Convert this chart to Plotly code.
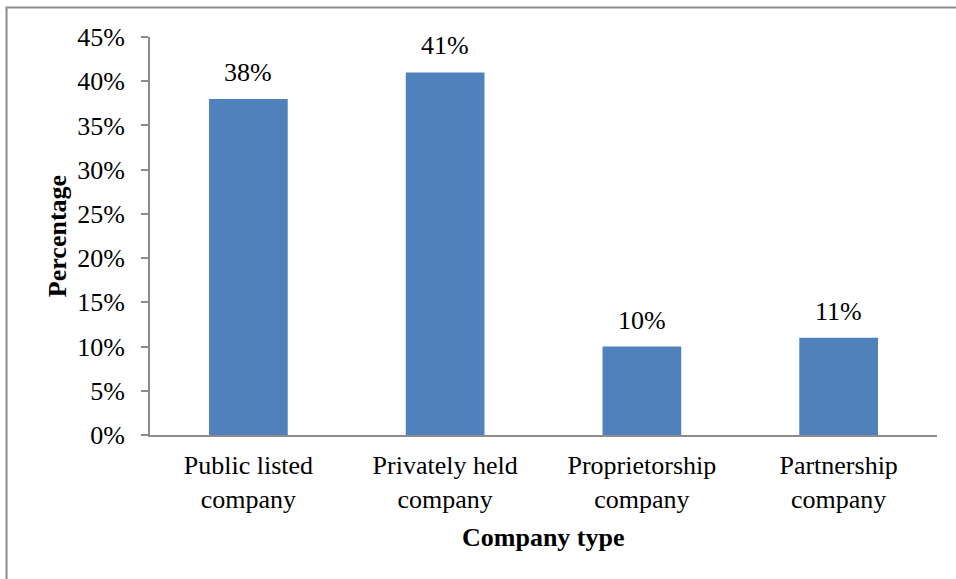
import plotly.graph_objects as go

# Share of respondents by company type
categories = ["Public listed<br>company", "Privately held<br>company",
              "Proprietorship<br>company", "Partnership<br>company"]
shares = [0.38, 0.41, 0.10, 0.11]
y_ticks = [0, 0.05, 0.10, 0.15, 0.20, 0.25, 0.30, 0.35, 0.40, 0.45]

FONT = "Liberation Serif"
BAR = "#4F81BD"
GRAY = "#8C8C8C"
SIZE = 26

fig = go.Figure(
    go.Bar(
        x=categories,
        y=shares,
        marker=dict(color=BAR, line=dict(width=0)),
        width=0.4,
        hoverinfo="skip",
    )
)

# value labels above each bar
for cat, v in zip(categories, shares):
    fig.add_annotation(
        x=cat, y=v, text=f"{round(v * 100)}%",
        showarrow=False, yanchor="bottom", yshift=10,
        font=dict(family=FONT, size=SIZE, color="#000000"),
    )

# axis titles
fig.add_annotation(
    x=-0.118, y=0.5, xref="paper", yref="paper", text="<b>Percentage</b>",
    textangle=-90, showarrow=False, xanchor="center", yanchor="middle",
    font=dict(family=FONT, size=SIZE, color="#000000"),
)
fig.add_annotation(
    x=0.5, y=-0.258, xref="paper", yref="paper", text="<b>Company type</b>",
    showarrow=False, xanchor="center", yanchor="middle",
    font=dict(family=FONT, size=SIZE, color="#000000"),
)

# outer chart border (top and left edges visible)
fig.add_shape(
    type="rect", xref="paper", yref="paper",
    x0=-0.1823, x1=1.2, y0=-0.6, y1=1.0741,
    line=dict(color=GRAY, width=2), fillcolor="rgba(0,0,0,0)", layer="above",
)

fig.update_layout(
    width=956, height=579,
    margin=dict(l=150, r=19, t=37, b=144),
    paper_bgcolor="white", plot_bgcolor="white",
    showlegend=False,
    font=dict(family=FONT, size=SIZE, color="#000000"),
    xaxis=dict(
        showline=True, linecolor=GRAY, linewidth=2,
        ticks="", showgrid=False, zeroline=False,
        tickfont=dict(family=FONT, size=SIZE, color="#000000"),
        ticklabelstandoff=6,
        fixedrange=True,
    ),
    yaxis=dict(
        range=[0, 0.45], tickvals=y_ticks, tickformat=".0%",
        showline=True, linecolor=GRAY, linewidth=2,
        ticks="outside", ticklen=7, tickcolor=GRAY, tickwidth=2,
        showgrid=False, zeroline=False,
        tickfont=dict(family=FONT, size=SIZE, color="#000000"),
        ticklabelstandoff=11,
        fixedrange=True,
    ),
)

fig.write_html("out.html")
